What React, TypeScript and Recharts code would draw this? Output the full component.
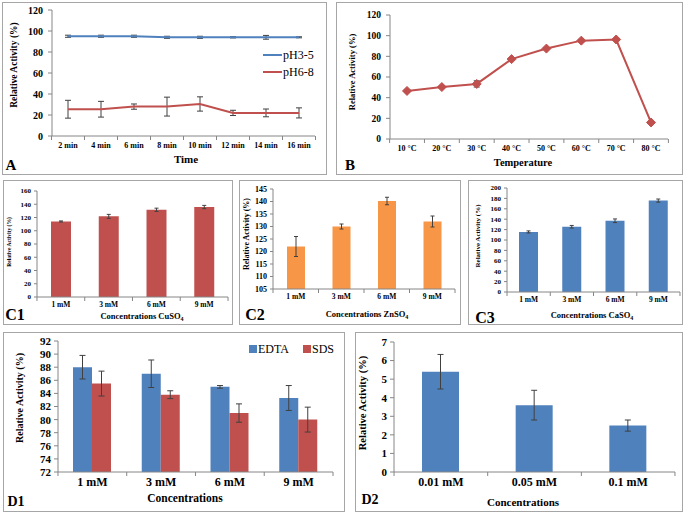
import React from 'react'
import { LineChart, Line, BarChart, Bar, XAxis, YAxis, ErrorBar } from 'recharts'

// A: pH stability over time
const timeLabels = ['2 min', '4 min', '6 min', '8 min', '10 min', '12 min', '14 min', '16 min']
const ph35 = [95, 95, 95, 94, 94, 94, 94, 94]
const ph35Err = [1, 1, 1, 1, 1, 0.6, 1.8, 0.5]
const ph68 = [25.5, 25.5, 28, 28, 30.5, 22, 22, 22]
const ph68Err = [8.5, 7.5, 2.5, 9, 6.8, 2.5, 3.7, 4.8]

// B: temperature
const tempLabels = ['10 °C', '20  °C', '30 °C', '40 °C', '50 °C', '60 °C', '70 °C', '80 °C']
const tempActivity = [46.5, 50.3, 53.3, 77.3, 87.5, 95.2, 96.3, 16]
const tempErr = [1, 1, 3, 1, 1, 1, 1, 1]

// C: metal ions
const metalLabels = ['1 mM', '3 mM', '6 mM', '9 mM']
const cuso4 = [114, 121.7, 131.6, 135.8]
const cuso4Err = [0.8, 3, 2.5, 2.5]
const znso4 = [122, 130, 140.2, 132]
const znso4Err = [4, 1, 1.5, 2.2]
const caso4 = [115.5, 125.5, 137, 175.8]
const caso4Err = [2, 2.5, 3.5, 3]

// D1: EDTA / SDS
const d1Labels = ['1 mM', '3 mM', '6 mM', '9 mM']
const edta = [88, 87, 85, 83.3]
const edtaErr = [1.8, 2.1, 0.2, 1.9]
const sds = [85.5, 83.8, 81, 80]
const sdsErr = [1.9, 0.6, 1.4, 1.9]

// D2
const d2Labels = ['0.01 mM', '0.05 mM', '0.1 mM']
const d2Values = [5.4, 3.6, 2.5]
const d2Err = [0.93, 0.8, 0.3]

const FONT = '"Liberation Serif", "Times New Roman", serif'
const BLUE = '#4F81BD'
const RED = '#C0504D'
const ORANGE = '#F79646'
const AXIS = '#868686'
const ERR = '#404040'

const dataA = timeLabels.map((t, i) => ({ t, a: ph35[i], aErr: ph35Err[i], b: ph68[i], bErr: ph68Err[i] }))
const dataB = tempLabels.map((t, i) => ({ t, v: tempActivity[i], err: tempErr[i] }))
const dataC1 = metalLabels.map((c, i) => ({ c, v: cuso4[i], err: cuso4Err[i] }))
const dataC2 = metalLabels.map((c, i) => ({ c, v: znso4[i], err: znso4Err[i] }))
const dataC3 = metalLabels.map((c, i) => ({ c, v: caso4[i], err: caso4Err[i] }))
const dataD1 = d1Labels.map((c, i) => ({ c, edta: edta[i], edtaErr: edtaErr[i], sds: sds[i], sdsErr: sdsErr[i] }))
const dataD2 = d2Labels.map((c, i) => ({ c, v: d2Values[i], err: d2Err[i] }))

const tick = (size: number) => ({ fontSize: size, fontWeight: 'bold', fill: '#000', fontFamily: FONT })

// category tick: label in the middle, Excel-style marks on the band edges
const catTick = (size: number, half: number, gap: number, count: number) => (props: any) => {
  const { x, y, payload, index } = props
  const axisY = y - gap
  return (
    <g key={`t-${index}`}>
      <line x1={x - half} x2={x - half} y1={axisY} y2={axisY + 4} stroke={AXIS} />
      {index === count - 1 && <line x1={x + half} x2={x + half} y1={axisY} y2={axisY + 4} stroke={AXIS} />}
      <text x={x} y={y} dy="0.71em" textAnchor="middle" fontSize={size} fontWeight="bold" fontFamily={FONT} fill="#000">
        {payload.value}
      </text>
    </g>
  )
}

function Txt({ x, y, size, bold = true, rotate = false, children }: any) {
  return (
    <div
      style={{
        position: 'absolute',
        left: x,
        top: y,
        transform: `translate(-50%, -50%)${rotate ? ' rotate(-90deg)' : ''}`,
        fontSize: size,
        fontWeight: bold ? 'bold' : 'normal',
        fontFamily: FONT,
        whiteSpace: 'nowrap',
        lineHeight: 1,
        color: '#000'
      }}
    >
      {children}
    </div>
  )
}

function Box({ l, t, r, b }: any) {
  return (
    <div
      style={{
        position: 'absolute',
        left: l,
        top: t,
        width: r - l,
        height: b - t,
        border: '1px solid #a6a6a6',
        boxSizing: 'border-box'
      }}
    />
  )
}

const Diamond = (props: any) => {
  const { cx, cy, index } = props
  if (cx == null || cy == null) return <g key={index} />
  return (
    <path
      key={index}
      d={`M${cx},${cy - 4.5} L${cx + 4.5},${cy} L${cx},${cy + 4.5} L${cx - 4.5},${cy} Z`}
      fill={RED}
      stroke={RED}
    />
  )
}

export default function App() {
  return (
    <div style={{ position: 'absolute', left: 0, top: 0, width: 685, height: 514, background: '#fff', overflow: 'hidden' }}>
      <Box l={2} t={2} r={327} b={175} />
      <Box l={336} t={2} r={683} b={175} />
      <Box l={3} t={180} r={233} b={325} />
      <Box l={239} t={180} r={461} b={325} />
      <Box l={468} t={180} r={683} b={325} />
      <Box l={3} t={332} r={345} b={512} />
      <Box l={355} t={332} r={683} b={512} />

      {/* A */}
      <div style={{ position: 'absolute', left: 2, top: 2 }}>
        <LineChart width={324} height={173} data={dataA} margin={{ top: 8, right: 11, bottom: 19, left: 20 }}>
          <XAxis dataKey="t" height={20} padding={{ left: 16, right: 16 }} interval={0} tickLine={false}
            tickSize={4} tickMargin={2} axisLine={{ stroke: AXIS }} tick={catTick(8, 16.5, 6, 8)} />
          <YAxis width={30} domain={[0, 120]} ticks={[0, 20, 40, 60, 80, 100, 120]} interval={0} tickSize={4} tickMargin={5}
            axisLine={{ stroke: AXIS }} tickLine={{ stroke: AXIS }} tick={tick(10)} />
          <Line dataKey="a" stroke={BLUE} strokeWidth={2} dot={false} isAnimationActive={false}>
            <ErrorBar dataKey="aErr" width={3} stroke={ERR} strokeWidth={1} />
          </Line>
          <Line dataKey="b" stroke={RED} strokeWidth={2} dot={false} isAnimationActive={false}>
            <ErrorBar dataKey="bErr" width={3} stroke={ERR} strokeWidth={1} />
          </Line>
        </LineChart>
      </div>
      <div style={{ position: 'absolute', left: 263, top: 54, width: 19, height: 2, background: BLUE }} />
      <div style={{ position: 'absolute', left: 263, top: 71, width: 19, height: 2, background: RED }} />
      <div style={{ position: 'absolute', left: 283, top: 48, fontFamily: FONT, fontSize: 12, lineHeight: '14px' }}>pH3-5</div>
      <div style={{ position: 'absolute', left: 283, top: 65, fontFamily: FONT, fontSize: 12, lineHeight: '14px' }}>pH6-8</div>
      <Txt x={15} y={65} size={9.5} rotate>Relative Activity (%)</Txt>
      <Txt x={186} y={159} size={11}>Time</Txt>
      <Txt x={11} y={165} size={15}>A</Txt>

      {/* B */}
      <div style={{ position: 'absolute', left: 336, top: 2 }}>
        <LineChart width={346} height={173} data={dataB} margin={{ top: 13, right: 14, bottom: 16, left: 24 }}>
          <XAxis dataKey="t" height={20} padding={{ left: 17, right: 17 }} interval={0} tickLine={false}
            tickSize={4} tickMargin={2} axisLine={{ stroke: AXIS }} tick={catTick(8, 17.4, 6, 8)} />
          <YAxis width={30} domain={[0, 120]} ticks={[0, 20, 40, 60, 80, 100, 120]} interval={0} tickSize={4} tickMargin={5}
            axisLine={{ stroke: AXIS }} tickLine={{ stroke: AXIS }} tick={tick(9.5)} />
          <Line dataKey="v" stroke={RED} strokeWidth={2} dot={Diamond} isAnimationActive={false}>
            <ErrorBar dataKey="err" width={3} stroke={ERR} strokeWidth={1} />
          </Line>
        </LineChart>
      </div>
      <Txt x={352} y={72} size={8.5} rotate>Relative Activity (%)</Txt>
      <Txt x={523} y={163} size={10.5}>Temperature</Txt>
      <Txt x={350} y={165} size={15}>B</Txt>

      {/* C1 */}
      <div style={{ position: 'absolute', left: 3, top: 180 }}>
        <BarChart width={230} height={145} data={dataC1} margin={{ top: 11, right: 5, bottom: 12, left: 14 }}>
          <XAxis dataKey="c" height={16} interval={0} tickLine={false} tickSize={3} tickMargin={2}
            axisLine={{ stroke: AXIS }} tick={catTick(7.5, 23.9, 5, 4)} />
          <YAxis width={20} domain={[0, 160]} ticks={[0, 20, 40, 60, 80, 100, 120, 140, 160]} interval={0} tickSize={3} tickMargin={3}
            axisLine={{ stroke: AXIS }} tickLine={{ stroke: AXIS }} tick={tick(7)} />
          <Bar dataKey="v" fill={RED} barSize={20} isAnimationActive={false}>
            <ErrorBar dataKey="err" width={2} stroke={ERR} strokeWidth={1} />
          </Bar>
        </BarChart>
      </div>
      <Txt x={10} y={242} size={5.5} rotate>Relative Activity (%)</Txt>
      <Txt x={142} y={317} size={8.5}>Concentrations CuSO<sub style={{ fontSize: 6 }}>4</sub></Txt>
      <Txt x={15} y={315} size={16}>C1</Txt>

      {/* C2 */}
      <div style={{ position: 'absolute', left: 239, top: 180 }}>
        <BarChart width={222} height={145} data={dataC2} margin={{ top: 9, right: 6, bottom: 20, left: 12 }}>
          <XAxis dataKey="c" height={16} interval={0} tickLine={false} tickSize={3} tickMargin={2}
            axisLine={{ stroke: AXIS }} tick={catTick(7.5, 22.75, 5, 4)} />
          <YAxis width={22} domain={[105, 145]} ticks={[105, 110, 115, 120, 125, 130, 135, 140, 145]} interval={0} tickSize={3} tickMargin={3}
            axisLine={{ stroke: AXIS }} tickLine={{ stroke: AXIS }} tick={tick(8)} />
          <Bar dataKey="v" fill={ORANGE} barSize={18} isAnimationActive={false}>
            <ErrorBar dataKey="err" width={2} stroke={ERR} strokeWidth={1} />
          </Bar>
        </BarChart>
      </div>
      <Txt x={247} y={234} size={8} rotate>Relative Activity (%)</Txt>
      <Txt x={367} y={315} size={8.5}>Concentrations ZnSO<sub style={{ fontSize: 6 }}>4</sub></Txt>
      <Txt x={255} y={315} size={16}>C2</Txt>

      {/* C3 */}
      <div style={{ position: 'absolute', left: 468, top: 180 }}>
        <BarChart width={214} height={145} data={dataC3} margin={{ top: 8, right: 2, bottom: 17, left: 17 }}>
          <XAxis dataKey="c" height={16} interval={0} tickLine={false} tickSize={3} tickMargin={2}
            axisLine={{ stroke: AXIS }} tick={catTick(7.5, 21.6, 5, 4)} />
          <YAxis width={22} domain={[0, 200]} ticks={[0, 20, 40, 60, 80, 100, 120, 140, 160, 180, 200]} interval={0} tickSize={3} tickMargin={3}
            axisLine={{ stroke: AXIS }} tickLine={{ stroke: AXIS }} tick={tick(7)} />
          <Bar dataKey="v" fill={BLUE} barSize={19} isAnimationActive={false}>
            <ErrorBar dataKey="err" width={2} stroke={ERR} strokeWidth={1} />
          </Bar>
        </BarChart>
      </div>
      <Txt x={478} y={236} size={7} rotate>Relative Activity (%)</Txt>
      <Txt x={592} y={316} size={8.5}>Concentrations CaSO<sub style={{ fontSize: 6 }}>4</sub></Txt>
      <Txt x={485} y={318} size={16}>C3</Txt>

      {/* D1 */}
      <div style={{ position: 'absolute', left: 3, top: 332 }}>
        <BarChart width={341} height={180} data={dataD1} barGap={0} margin={{ top: 9, right: 11, bottom: 18, left: 30 }}>
          <XAxis dataKey="c" height={22} interval={0} tickLine={false} tickSize={0} tickMargin={5}
            axisLine={{ stroke: AXIS }} tick={catTick(12, 34.4, 5, 4)} />
          <YAxis width={25} domain={[72, 92]} ticks={[72, 74, 76, 78, 80, 82, 84, 86, 88, 90, 92]} interval={0} tickSize={4} tickMargin={3}
            axisLine={{ stroke: AXIS }} tickLine={{ stroke: AXIS }} tick={tick(11)} />
          <Bar dataKey="edta" fill={BLUE} barSize={19} isAnimationActive={false}>
            <ErrorBar dataKey="edtaErr" width={3} stroke={ERR} strokeWidth={1} />
          </Bar>
          <Bar dataKey="sds" fill={RED} barSize={19} isAnimationActive={false}>
            <ErrorBar dataKey="sdsErr" width={3} stroke={ERR} strokeWidth={1} />
          </Bar>
        </BarChart>
      </div>
      <div style={{ position: 'absolute', left: 249, top: 345, width: 8, height: 8, background: BLUE }} />
      <div style={{ position: 'absolute', left: 258, top: 342, fontFamily: FONT, fontSize: 12, lineHeight: '14px' }}>EDTA</div>
      <div style={{ position: 'absolute', left: 303, top: 345, width: 8, height: 8, background: RED }} />
      <div style={{ position: 'absolute', left: 312, top: 342, fontFamily: FONT, fontSize: 12, lineHeight: '14px' }}>SDS</div>
      <Txt x={20} y={398} size={10} rotate>Relative Activity (%)</Txt>
      <Txt x={185} y={499} size={11.5}>Concentrations</Txt>
      <Txt x={16} y={502} size={14}>D1</Txt>

      {/* D2 */}
      <div style={{ position: 'absolute', left: 355, top: 332 }}>
        <BarChart width={327} height={180} data={dataD2} margin={{ top: 10, right: 7, bottom: 18, left: 24 }}>
          <XAxis dataKey="c" height={22} interval={0} tickLine={false} tickSize={0} tickMargin={5}
            axisLine={{ stroke: AXIS }} tick={catTick(12, 46.8, 5, 3)} />
          <YAxis width={15} domain={[0, 7]} ticks={[0, 1, 2, 3, 4, 5, 6, 7]} interval={0} tickSize={4} tickMargin={3}
            axisLine={{ stroke: AXIS }} tickLine={{ stroke: AXIS }} tick={tick(11)} />
          <Bar dataKey="v" fill={BLUE} barSize={37} isAnimationActive={false}>
            <ErrorBar dataKey="err" width={3} stroke={ERR} strokeWidth={1} />
          </Bar>
        </BarChart>
      </div>
      <Txt x={363} y={403} size={10.5} rotate>Relative Activity (%)</Txt>
      <Txt x={523} y={502} size={11}>Concentrations</Txt>
      <Txt x={370} y={500} size={14}>D2</Txt>
    </div>
  )
}
